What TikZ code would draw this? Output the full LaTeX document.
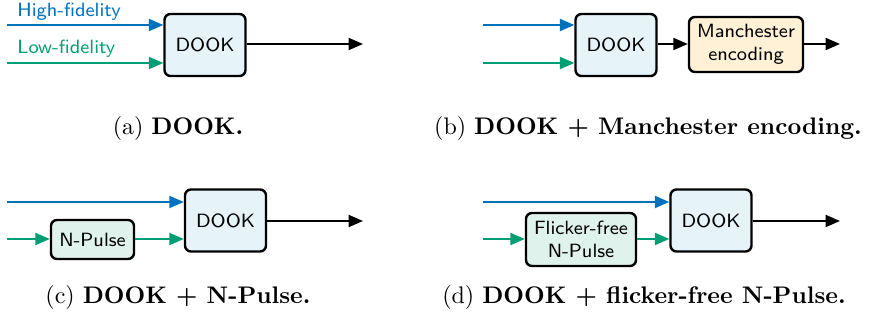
\documentclass[tikz,border=0pt]{standalone}
\usetikzlibrary{arrows.meta}
\definecolor{hfblue}{RGB}{0,114,189}
\definecolor{lfgreen}{RGB}{0,158,115}
\definecolor{dookfill}{RGB}{230,244,250}
\definecolor{encfill}{RGB}{254,241,214}
\definecolor{pulsefill}{RGB}{224,242,236}
\newdimen\pxu
\pxu=0.417pt
\tikzset{
  block/.style={draw=black, line width=1pt, rounded corners=2.5pt, align=center,
    font=\sffamily\footnotesize, inner sep=1pt},
  dook/.style={block, fill=dookfill, minimum width=81*\pxu, minimum height=62*\pxu},
  enc/.style={block, fill=encfill, minimum width=114*\pxu, minimum height=55*\pxu},
  pulse/.style={block, fill=pulsefill, minimum height=39*\pxu},
  sig/.style={line width=0.8pt, -{Triangle[length=6pt,width=5pt]}},
  hf/.style={sig, hfblue},
  lf/.style={sig, lfgreen},
  lbl/.style={font=\sffamily\footnotesize, inner sep=0pt, anchor=west},
  subcap/.style={font=\normalsize, inner sep=0pt}
}
\begin{document}
\begin{tikzpicture}[x=0.417pt, y=-0.417pt]
\useasboundingbox (0,0) rectangle (875,320);

% (a) plain DOOK
\node[dook] (da) at (205,45) {DOOK};
\coordinate (ha) at (7,25);
\coordinate (la) at (7,63);
\coordinate (oa) at (363,44);
\draw[hf] (ha) -- (ha -| da.west);
\draw[lf] (la) -- (la -| da.west);
\draw[sig] (da.east |- oa) -- (oa);
\node[lbl, text=hfblue] (hlab) at (17,12) {High-fidelity};
\node[lbl, text=lfgreen] (llab) at (17,49) {Low-fidelity};
\node[subcap] (capa) at (178,129) {(a) \textbf{DOOK.}};

% (b) DOOK followed by Manchester encoding
\node[dook] (db) at (616,45) {DOOK};
\node[enc] (mb) at (746,44.5) {Manchester\\encoding};
\coordinate (hb) at (483,25);
\coordinate (lb) at (483,63);
\coordinate (ob) at (840,44);
\draw[hf] (hb) -- (hb -| db.west);
\draw[lf] (lb) -- (lb -| db.west);
\draw[sig] (db.east |- ob) -- (mb.west |- ob);
\draw[sig] (mb.east |- ob) -- (ob);
\node[subcap] (capb) at (648,129) {(b) \textbf{DOOK + Manchester encoding.}};

% (c) N-Pulse on the low-fidelity branch
\node[dook] (dc) at (225.5,220.5) {DOOK};
\node[pulse, minimum width=83*\pxu] (pc) at (92.5,239.5) {N-Pulse};
\coordinate (hc) at (7,202);
\coordinate (lc) at (7,239);
\coordinate (oc) at (363,221);
\draw[hf] (hc) -- (hc -| dc.west);
\draw[lf] (lc) -- (lc -| pc.west);
\draw[lf] (pc.east |- lc) -- (lc -| dc.west);
\draw[sig] (dc.east |- oc) -- (oc);
\node[subcap] (capc) at (178,298) {(c) \textbf{DOOK + N-Pulse.}};

% (d) flicker-free N-Pulse on the low-fidelity branch
\node[dook] (dd) at (711,220.5) {DOOK};
\node[pulse, minimum width=110*\pxu, minimum height=53*\pxu] (pd) at (581,239.5) {Flicker-free\\N-Pulse};
\coordinate (hd) at (483,202);
\coordinate (ld) at (483,239);
\coordinate (od) at (840,221);
\draw[hf] (hd) -- (hd -| dd.west);
\draw[lf] (ld) -- (ld -| pd.west);
\draw[lf] (pd.east |- ld) -- (ld -| dd.west);
\draw[sig] (dd.east |- od) -- (od);
\node[subcap] (capd) at (644,298) {(d) \textbf{DOOK + flicker-free N-Pulse.}};
\end{tikzpicture}
\end{document}
